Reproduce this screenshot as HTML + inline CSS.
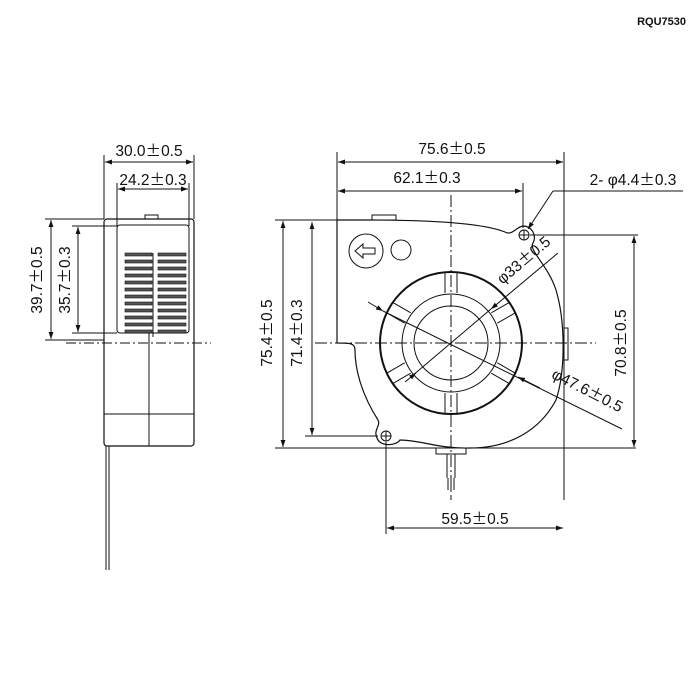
<!DOCTYPE html>
<html><head><meta charset="utf-8"><style>
html,body{margin:0;padding:0;background:#fff;}
svg{display:block;}
text{font-family:"Liberation Sans",Arial,sans-serif;fill:#111;}
.pm{font-family:"Noto Sans CJK JP","Liberation Sans",sans-serif;}
</style></head><body>
<svg width="700" height="700" viewBox="0 0 700 700" xmlns="http://www.w3.org/2000/svg">
<defs>
<marker id="a" viewBox="0 0 10 10" refX="10" refY="5" markerWidth="7" markerHeight="7" orient="auto-start-reverse" markerUnits="userSpaceOnUse"><path d="M0,1.5 L10,5 L0,8.5 z" fill="#111"/></marker>
</defs>
<text x="686" y="25" font-size="11" font-weight="bold" text-anchor="end">RQU7530</text>

<g stroke="#111" fill="none" stroke-width="1">
<line x1="104" y1="155" x2="104" y2="219"/>
<line x1="194" y1="155" x2="194" y2="219"/>
<line x1="117" y1="183" x2="117" y2="226"/>
<line x1="189" y1="183" x2="189" y2="226"/>
<line x1="105" y1="162" x2="193" y2="162" marker-start="url(#a)" marker-end="url(#a)"/>
<line x1="118" y1="189" x2="188" y2="189" marker-start="url(#a)" marker-end="url(#a)"/>
<rect x="104" y="219" width="90" height="227" rx="3" stroke-width="1.2"/>
<rect x="117" y="225" width="72" height="108" rx="3"/>
<path d="M145,219 v-4 h13 v4"/>
<line x1="45" y1="219" x2="104" y2="219"/>
<line x1="45" y1="340" x2="104" y2="340"/>
<line x1="72" y1="226" x2="117" y2="226"/>
<line x1="72" y1="333" x2="117" y2="333"/>
<line x1="51" y1="220" x2="51" y2="339" marker-start="url(#a)" marker-end="url(#a)"/>
<line x1="78" y1="227" x2="78" y2="332" marker-start="url(#a)" marker-end="url(#a)"/>
<line x1="66" y1="343" x2="211" y2="343" stroke-dasharray="10,3,2,3"/>
<line x1="104" y1="414" x2="194" y2="414"/>
<line x1="149" y1="333" x2="149" y2="446"/>
<line x1="153" y1="253" x2="153" y2="337"/>
<path d="M106,446 V570 M109,446 V570" />
</g>
<g fill="#555" stroke="#111" stroke-width="0.6">
<rect x="125" y="253" width="27" height="3"/><rect x="158" y="253" width="28" height="3"/>
<rect x="125" y="260" width="27" height="3"/><rect x="158" y="260" width="28" height="3"/>
<rect x="125" y="267" width="27" height="3"/><rect x="158" y="267" width="28" height="3"/>
<rect x="125" y="274" width="27" height="3"/><rect x="158" y="274" width="28" height="3"/>
<rect x="125" y="281" width="27" height="3"/><rect x="158" y="281" width="28" height="3"/>
<rect x="125" y="288" width="27" height="3"/><rect x="158" y="288" width="28" height="3"/>
<rect x="125" y="295" width="27" height="3"/><rect x="158" y="295" width="28" height="3"/>
<rect x="125" y="302" width="27" height="3"/><rect x="158" y="302" width="28" height="3"/>
<rect x="125" y="309" width="27" height="3"/><rect x="158" y="309" width="28" height="3"/>
<rect x="125" y="316" width="27" height="3"/><rect x="158" y="316" width="28" height="3"/>
<rect x="125" y="323" width="27" height="3"/><rect x="158" y="323" width="28" height="3"/>
<rect x="125" y="330" width="27" height="3"/><rect x="158" y="330" width="28" height="3"/>
</g>
<g font-size="15.5" text-anchor="middle">
<text x="149" y="156">30.0<tspan class="pm">±</tspan>0.5</text>
<text x="153" y="185">24.2<tspan class="pm">±</tspan>0.3</text>
<text transform="translate(42,280) rotate(-90)">39.7<tspan class="pm">±</tspan>0.5</text>
<text transform="translate(70,280) rotate(-90)">35.7<tspan class="pm">±</tspan>0.3</text>
</g>

<g stroke="#111" fill="none" stroke-width="1">
<line x1="337" y1="152" x2="337" y2="220"/>
<line x1="564" y1="152" x2="564" y2="500"/>
<line x1="338" y1="162" x2="563" y2="162" marker-start="url(#a)" marker-end="url(#a)"/>
<line x1="523" y1="183" x2="523" y2="228"/>
<line x1="338" y1="191" x2="522" y2="191" marker-start="url(#a)" marker-end="url(#a)"/>
<line x1="275" y1="220" x2="368" y2="220"/>
<line x1="275" y1="448" x2="636" y2="448"/>
<line x1="283" y1="221" x2="283" y2="447" marker-start="url(#a)" marker-end="url(#a)"/>
<line x1="312" y1="222" x2="312" y2="435" marker-start="url(#a)" marker-end="url(#a)"/>
<line x1="305" y1="436" x2="378" y2="436"/>
<line x1="530" y1="235" x2="638" y2="235"/>
<line x1="634" y1="236" x2="634" y2="447" marker-start="url(#a)" marker-end="url(#a)"/>
<line x1="386" y1="442" x2="386" y2="534"/>
<line x1="387" y1="528" x2="563" y2="528" marker-start="url(#a)" marker-end="url(#a)"/>
<path d="M337,220 H368 C420,220 480,222 505,232 C512,236 516,227 523,226 C532,226 537,236 533,243 C528,250 548,265 556,290 C565,320 566,370 556,400 C540,430 510,448 470,448 C440,449 420,440 400,440 C396,446 380,447 377,438 C373,430 381,426 378,420 C362,395 355,370 355,350 C355,343 350,343 337,343 Z" stroke-width="1.2"/>
<rect x="372" y="215" width="24" height="5"/>
<rect x="564" y="328" width="4" height="32"/>
<circle cx="524" cy="235" r="5"/><path d="M519,235 h10 M524,230 v10"/>
<circle cx="386" cy="436" r="5"/><path d="M381,436 h10 M386,431 v10"/>
<circle cx="366" cy="251" r="17"/>
<circle cx="401" cy="250" r="10"/>
<path d="M355,251 l8,-7 v4 h12 v6 h-12 v4 z"/>
<rect x="436" y="448" width="30" height="6"/>
<path d="M447,454 V478 M455,454 V478 M448,478 V490 M454,478 V490 M451,478 V492"/>
<circle cx="451" cy="343" r="71" stroke-width="2"/>
<circle cx="451" cy="343" r="49"/>
<circle cx="451" cy="343" r="37"/>
<g transform="translate(451,343)">
<path d="M-6,-70 V-50 M6,-70 V-50" transform="rotate(0)"/>
<path d="M-6,-70 V-50 M6,-70 V-50" transform="rotate(60)"/>
<path d="M-6,-70 V-50 M6,-70 V-50" transform="rotate(120)"/>
<path d="M-6,-70 V-50 M6,-70 V-50" transform="rotate(180)"/>
<path d="M-6,-70 V-50 M6,-70 V-50" transform="rotate(240)"/>
<path d="M-6,-70 V-50 M6,-70 V-50" transform="rotate(300)"/>
</g>
<line x1="451" y1="195" x2="451" y2="500" stroke-dasharray="12,3,2,3"/>
<line x1="315" y1="343" x2="596" y2="343" stroke-dasharray="12,3,2,3"/>
<line x1="558" y1="253" x2="491" y2="309" marker-end="url(#a)"/>
<line x1="491" y1="309" x2="412" y2="376"/>
<line x1="405" y1="382" x2="416" y2="373" marker-end="url(#a)"/>
<line x1="368" y1="302" x2="383" y2="311" marker-end="url(#a)"/>
<line x1="383" y1="311" x2="622" y2="429"/>
<line x1="540" y1="388" x2="518" y2="377" marker-end="url(#a)"/>
<line x1="553" y1="191" x2="683" y2="191"/>
<line x1="553" y1="191" x2="528" y2="229" marker-end="url(#a)"/>
</g>
<g font-size="15.5" text-anchor="middle">
<text x="452" y="154">75.6<tspan class="pm">±</tspan>0.5</text>
<text x="427" y="183">62.1<tspan class="pm">±</tspan>0.3</text>
<text x="633" y="185">2- φ4.4<tspan class="pm">±</tspan>0.3</text>
<text transform="translate(272,333) rotate(-90)">75.4<tspan class="pm">±</tspan>0.5</text>
<text transform="translate(302,333) rotate(-90)">71.4<tspan class="pm">±</tspan>0.3</text>
<text transform="translate(626,343) rotate(-90)">70.8<tspan class="pm">±</tspan>0.5</text>
<text x="475" y="524">59.5<tspan class="pm">±</tspan>0.5</text>
<text transform="translate(527,264) rotate(-40)">φ33<tspan class="pm">±</tspan>0.5</text>
<text transform="translate(585,395) rotate(27)">φ47.6<tspan class="pm">±</tspan>0.5</text>
</g>
</svg>
</body></html>
